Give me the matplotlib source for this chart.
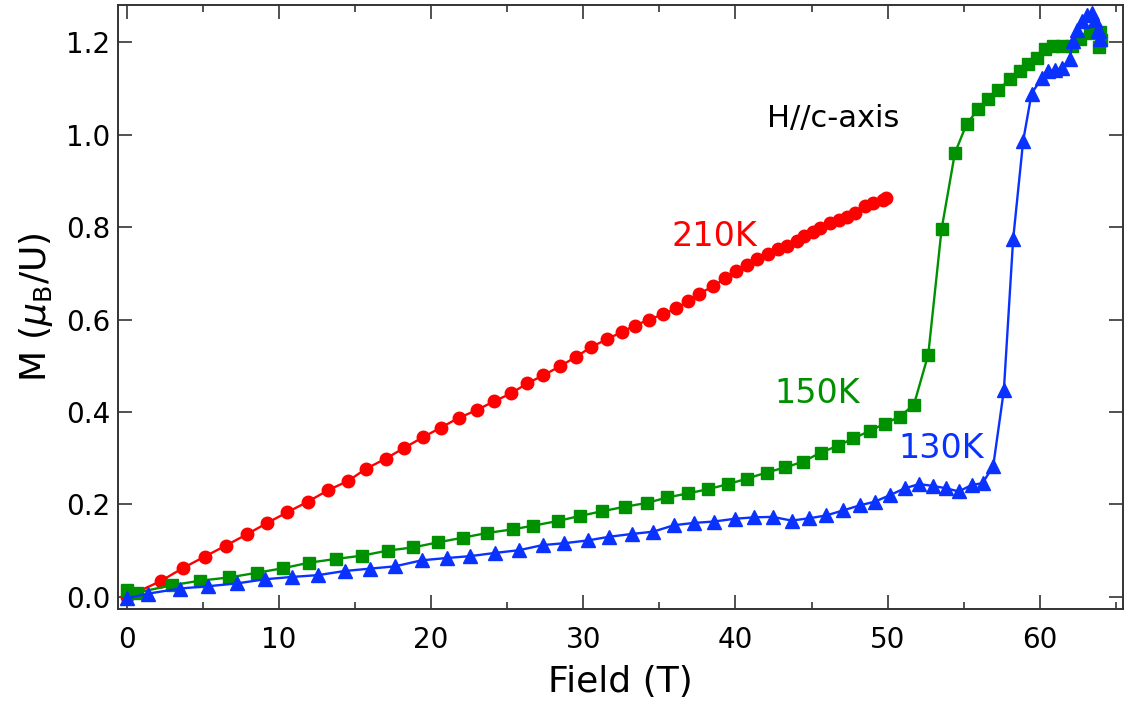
import numpy as np
import matplotlib
matplotlib.use("Agg")
import matplotlib.pyplot as plt
from matplotlib.ticker import MultipleLocator, FormatStrFormatter

# magnetization curves, H // c-axis
field_210K = [0, 2.23, 3.68, 5.12, 6.52, 7.88, 9.24, 10.55, 11.91, 13.25, 14.56, 15.72, 17.02,
              18.22, 19.45, 20.63, 21.81, 23.0, 24.13, 25.25, 26.32, 27.37, 28.47, 29.52, 30.49,
              31.54, 32.52, 33.4, 34.32, 35.22, 36.09, 36.9, 37.62, 38.54, 39.31, 40.03, 40.74,
              41.43, 42.15, 42.81, 43.4, 44.02, 44.5, 45.07, 45.55, 46.21, 46.82, 47.35, 47.87,
              48.51, 49.05, 49.67, 49.89]
m_210K = [0.0, 0.034, 0.062, 0.087, 0.111, 0.135, 0.160, 0.183, 0.206, 0.231, 0.251, 0.277, 0.299,
          0.322, 0.345, 0.366, 0.387, 0.404, 0.423, 0.440, 0.462, 0.479, 0.499, 0.519, 0.540,
          0.557, 0.573, 0.587, 0.600, 0.611, 0.624, 0.640, 0.656, 0.672, 0.689, 0.704, 0.719,
          0.732, 0.741, 0.752, 0.759, 0.771, 0.781, 0.790, 0.799, 0.808, 0.815, 0.821, 0.830,
          0.845, 0.852, 0.859, 0.862]

field_150K = [0, 0.66, 2.96, 4.82, 6.74, 8.54, 10.29, 12.0, 13.75, 15.44, 17.15, 18.83, 20.47,
              22.08, 23.65, 25.36, 26.71, 28.32, 29.78, 31.21, 32.74, 34.16, 35.52, 36.9, 38.21,
              39.53, 40.78, 42.05, 43.26, 44.42, 45.6, 46.75, 47.74, 48.84, 49.82, 50.81, 51.73,
              52.67, 53.55, 54.42, 55.19, 55.95, 56.61, 57.27, 58.04, 58.69, 59.24, 59.79, 60.33,
              60.88, 61.43, 62.09, 62.63, 63.29, 63.95, 64.0, 63.9]
m_150K = [0.015, 0.009, 0.025, 0.035, 0.042, 0.052, 0.062, 0.074, 0.082, 0.089, 0.100, 0.107, 0.118,
          0.128, 0.138, 0.146, 0.154, 0.164, 0.175, 0.185, 0.195, 0.203, 0.215, 0.224, 0.233,
          0.244, 0.256, 0.269, 0.280, 0.292, 0.312, 0.327, 0.343, 0.359, 0.375, 0.390, 0.416,
          0.524, 0.796, 0.960, 1.023, 1.055, 1.077, 1.097, 1.120, 1.138, 1.154, 1.165, 1.185,
          1.191, 1.191, 1.191, 1.206, 1.219, 1.222, 1.205, 1.190]

field_130K = [0, 1.42, 3.5, 5.36, 7.23, 9.09, 10.84, 12.59, 14.34, 15.99, 17.63, 19.38, 21.03,
              22.56, 24.2, 25.8, 27.33, 28.75, 30.29, 31.71, 33.18, 34.6, 35.96, 37.29, 38.61,
              39.97, 41.22, 42.44, 43.69, 44.85, 45.95, 47.08, 48.18, 49.17, 50.15, 51.14, 52.08,
              52.96, 53.83, 54.68, 55.52, 56.24, 56.94, 57.64, 58.25, 58.91, 59.46, 60.12, 60.55,
              60.99, 61.43, 61.98, 62.16, 62.42, 62.75, 63.08, 63.4, 63.62, 63.84, 63.95, 63.9]
m_130K = [-0.003, 0.007, 0.018, 0.023, 0.029, 0.038, 0.043, 0.047, 0.056, 0.061, 0.066, 0.079, 0.084,
          0.088, 0.095, 0.101, 0.112, 0.116, 0.122, 0.130, 0.136, 0.141, 0.155, 0.160, 0.163,
          0.169, 0.172, 0.173, 0.165, 0.170, 0.176, 0.187, 0.198, 0.206, 0.220, 0.235, 0.244,
          0.240, 0.235, 0.228, 0.242, 0.246, 0.283, 0.447, 0.774, 0.987, 1.089, 1.122, 1.137,
          1.140, 1.144, 1.164, 1.203, 1.227, 1.245, 1.259, 1.263, 1.248, 1.227, 1.206, 1.225]

red = '#FF0000'
green = '#009100'
blue = '#0A32FF'

plt.rcParams['font.family'] = 'DejaVu Sans'

fig = plt.figure(figsize=(11.27, 7.04), dpi=100)
ax = fig.add_axes([0.105, 0.1345, 0.8912, 0.858])

ax.plot(field_210K, m_210K, '-o', color=red, lw=1.7, ms=9, mec=red, zorder=3)
ax.plot(field_150K, m_150K, '-s', color=green, lw=1.7, ms=8.6, mec=green, zorder=4)
ax.plot(field_130K, m_130K, '-^', color=blue, lw=1.7, ms=9.8, mec=blue, zorder=5)

ax.text(38.6, 0.779, '210K', color=red, fontsize=24, ha='center', va='center')
ax.text(45.4, 0.439, '150K', color=green, fontsize=24, ha='center', va='center')
ax.text(53.5, 0.320, '130K', color=blue, fontsize=24, ha='center', va='center')
ax.text(46.4, 1.036, 'H//c-axis', color='black', fontsize=22, ha='center', va='center')

ax.set_xlim(-0.55, 65.45)
ax.set_ylim(-0.027, 1.28)
ax.xaxis.set_major_locator(MultipleLocator(10))
ax.xaxis.set_minor_locator(MultipleLocator(5))
ax.yaxis.set_major_locator(MultipleLocator(0.2))
ax.yaxis.set_major_formatter(FormatStrFormatter('%.1f'))

ax.tick_params(which='both', direction='in', top=True, right=True, width=1.1, color='#222222')
ax.tick_params(which='major', length=10, labelsize=20)
ax.tick_params(axis='x', which='major', pad=12)
ax.tick_params(axis='y', which='major', pad=6)
ax.tick_params(which='minor', length=5)
for sp in ax.spines.values():
    sp.set_linewidth(1.4)
    sp.set_color('#333333')

ax.set_xlabel('Field (T)', fontsize=26, labelpad=8)
ax.set_ylabel(r'M ($\mu_{\rm B}$/U)', fontsize=26, labelpad=8)

fig.savefig('out.png', dpi=100)
